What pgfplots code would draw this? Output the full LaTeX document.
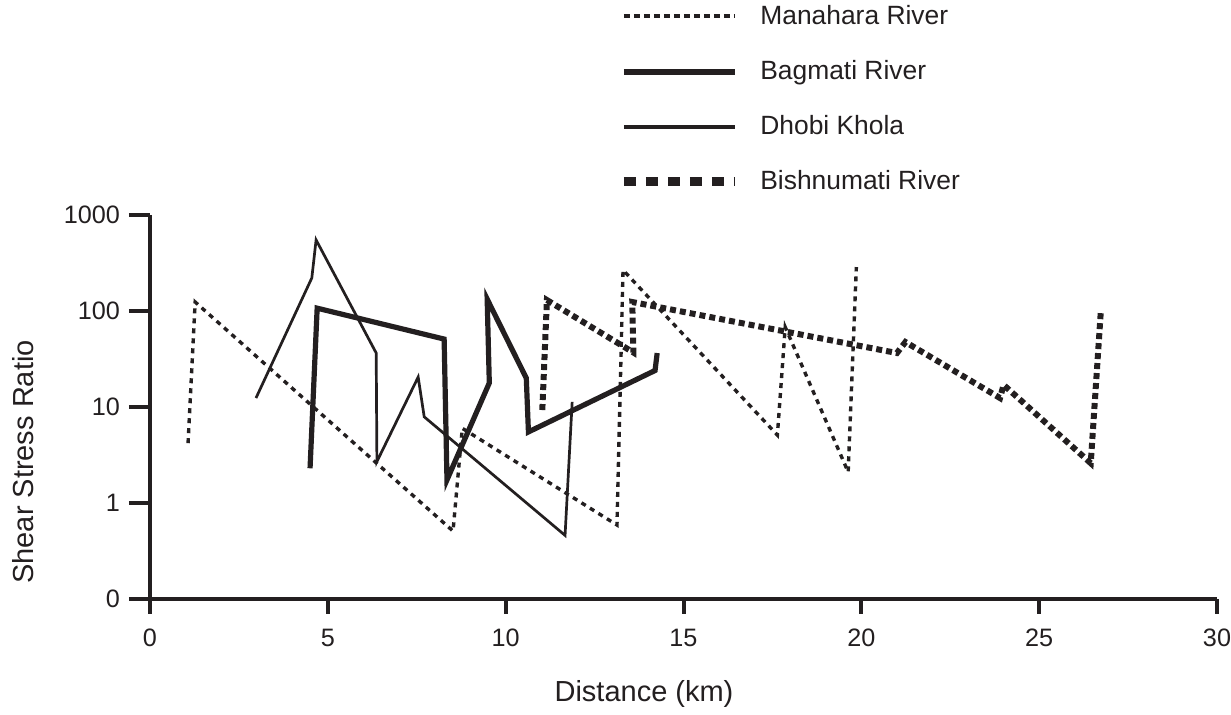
\documentclass[border=0pt]{standalone}
\usepackage{pgfplots}
\pgfplotsset{compat=1.18}
\usepackage{fontspec}
\setmainfont{Liberation Sans}
\definecolor{ink}{RGB}{35,31,32}
\begin{document}
\begin{tikzpicture}
\begin{axis}[
  scale only axis,
  width=533.5pt, height=192pt,
  xmin=0, xmax=30,
  ymode=log, ymin=0.1, ymax=1000,
  axis x line=bottom, axis y line=left,
  axis line style={line width=2pt, -, ink},
  xtick={0,5,...,30},
  ytick={0.1,1,10,100,1000},
  yticklabels={0,1,10,100,1000},
  yminorticks=false, xminorticks=false,
  tick align=outside,
  major tick length=7.5pt,
  tick style={line width=2pt, ink},
  ytick style={/pgfplots/major tick length=10.5pt},
  /pgf/number format/assume math mode=true,
  ticklabel style={font=\fontsize{12.6pt}{14pt}\selectfont, text=ink},
  yticklabel style={xshift=-4pt},
  xticklabel style={yshift=-4pt},
  xlabel={Distance (km)},
  ylabel={Shear Stress Ratio},
  label style={font=\fontsize{14.5pt}{17pt}\selectfont, text=ink},
  xlabel style={at={(axis description cs:0.463,-0.247)}, anchor=center},
  ylabel style={at={(axis description cs:-0.119,0.357)}, anchor=center, rotate=0},
  legend style={at={(axis description cs:0.4395,1.547)}, anchor=north west,
    draw=none, fill=none, font=\fontsize{13.2pt}{15pt}\selectfont, text=ink,
    row sep=16.5pt, column sep=0pt, inner sep=0pt,
    nodes={inner xsep=10.5pt, inner ysep=0pt, anchor=west}},
  legend cell align=left,
]
\addplot[ink, line width=1.7pt, dash pattern=on 2.5pt off 2.5pt,
  legend image code/.code={\draw[ink, line width=2pt, dash pattern=on 3pt off 2pt] (0pt,0pt) -- (55.5pt,0pt);}]
  coordinates {(1.07,4.2) (1.27,124) (8.52,0.51) (8.78,6.0) (13.13,0.59) (13.3,267) (17.64,5.1) (17.86,68) (19.63,2.1) (19.86,287)};
\addlegendentry{Manahara River}
\addplot[ink, line width=2.6pt, line join=miter,
  legend image code/.code={\draw[ink, line width=3pt] (0pt,0pt) -- (55.5pt,0pt);}]
  coordinates {(4.5,2.3) (4.7,107) (8.27,51) (8.35,1.74) (9.54,17.8) (9.48,133) (10.58,20) (10.64,5.5) (14.2,24) (14.26,36.5)};
\addlegendentry{Bagmati River}
\addplot[ink, line width=1.35pt, line join=miter,
  legend image code/.code={\draw[ink, line width=2pt] (0pt,0pt) -- (55.5pt,0pt);}]
  coordinates {(2.98,12.4) (4.55,221) (4.67,550) (6.36,36.5) (6.38,2.7) (7.54,20.5) (7.71,7.9) (11.67,0.46) (11.87,11.3)};
\addlegendentry{Dhobi Khola}
\addplot[ink, line width=3pt, dash pattern=on 3pt off 2pt,
  legend image code/.code={\draw[ink, line width=4.5pt, dash pattern=on 6pt off 5pt] (0pt,0pt) -- (55.5pt,0pt);}]
  coordinates {(11.03,9.3) (11.16,130) (13.59,37) (13.56,124) (21.0,36.5) (21.24,47.5) (23.9,12.4) (24.0,17) (26.45,2.6) (26.73,95)};
\addlegendentry{Bishnumati River}
\coordinate (O) at (rel axis cs:0,0);
\end{axis}
\pgfresetboundingbox
\path (O) +(-75pt,-57.5pt) rectangle +(540.5pt,299.5pt);
\end{tikzpicture}
\end{document}
